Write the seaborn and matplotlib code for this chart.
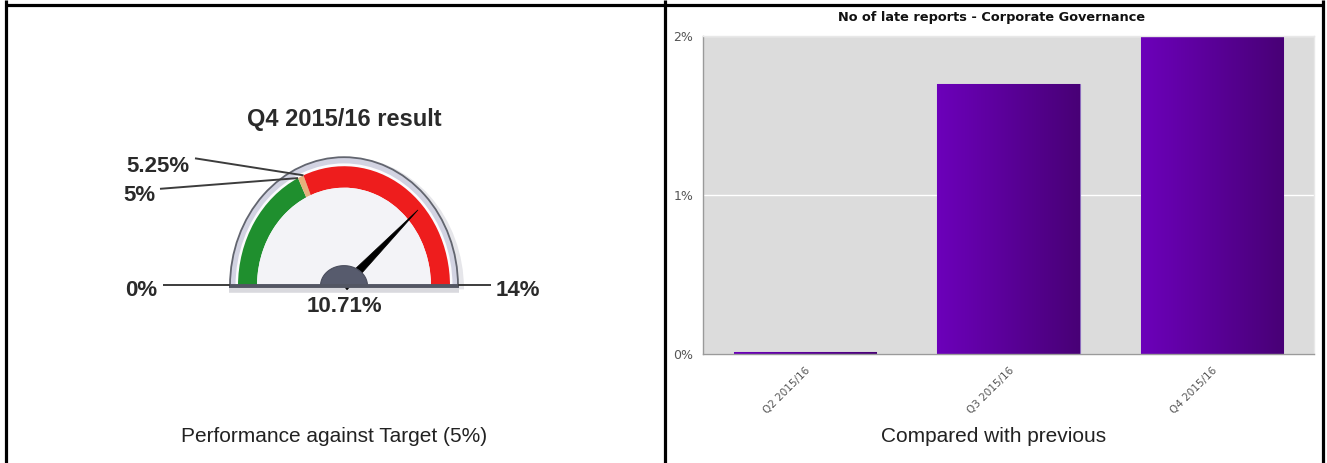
import numpy as np
import pandas as pd
import matplotlib
matplotlib.use("Agg")
import matplotlib.pyplot as plt
import seaborn as sns
from matplotlib.patches import Wedge, Polygon
from matplotlib.colors import LinearSegmentedColormap

# ---- bar chart data ----
quarters = ["Q2 2015/16", "Q3 2015/16", "Q4 2015/16"]
late_pct = [0.01, 1.70, 2.00]
y_ticks = [0, 1, 2]
y_tick_labels = ["0%", "1%", "2%"]
bar_title = "No of late reports - Corporate Governance"

# ---- gauge data ----
gauge_min = 0.0
gauge_max = 14.0
band_edges = [0.0, 5.0, 5.25, 14.0]
band_colors = ["#1f8f2e", "#e6b27c", "#ee1d1d"]
result_value = 10.71
gauge_title = "Q4 2015/16 result"
result_label = "10.71%"
scale_values = [0.0, 5.0, 5.25, 14.0]
scale_labels = ["0%", "5%", "5.25%", "14%"]

left_caption = "Performance against Target (5%)"
right_caption = "Compared with previous"

W, H, DPI = 1327, 463, 100
sns.set_theme(style="white")
plt.rcParams["font.family"] = ["DejaVu Sans"]

fig = plt.figure(figsize=(W / DPI, H / DPI), dpi=DPI)
fig.patch.set_facecolor("white")


def px_axes(x0, y0, x1, y1):
    """Axes placed by pixel box (top-left origin)."""
    return fig.add_axes([x0 / W, 1 - y1 / H, (x1 - x0) / W, (y1 - y0) / H])


# ================= bar chart =================
ax = px_axes(703, 36, 1314, 354)
df = pd.DataFrame({"quarter": quarters, "pct": late_pct})
sns.barplot(data=df, x="quarter", y="pct", ax=ax, width=0.7, color="#5a0096",
            saturation=1, edgecolor="#8d6bbd", linewidth=0.8, errorbar=None)

bar_cmap = LinearSegmentedColormap.from_list("bar_grad", ["#6c00ba", "#480076"])
grad = np.linspace(0, 1, 256).reshape(1, -1)
for p in list(ax.patches):
    x, y, w, h = p.get_x(), p.get_y(), p.get_width(), p.get_height()
    im = ax.imshow(grad, extent=[x, x + w, y, y + h], aspect="auto", cmap=bar_cmap,
                   interpolation="bicubic", zorder=p.get_zorder() + 0.1)
    im.set_clip_path(p)

ax.set_xlim(-0.5, 2.5)
ax.set_ylim(0, 2)
ax.set_facecolor("#dcdcdc")
ax.set_yticks(y_ticks)
ax.set_yticklabels(y_tick_labels)
ax.set_axisbelow(True)
ax.grid(axis="y", color="white", linewidth=1.0)
ax.grid(axis="x", visible=False)
ax.set_xlabel("")
ax.set_ylabel("")
for side in ("left", "bottom"):
    ax.spines[side].set_color("#9a9a9a")
    ax.spines[side].set_linewidth(1.0)
for side in ("top", "right"):
    ax.spines[side].set_color("#e8e8e8")
    ax.spines[side].set_linewidth(1.0)
ax.tick_params(axis="both", which="major", direction="out", length=4, width=0.8,
               color="#9a9a9a", labelcolor="#555555")
ax.tick_params(axis="y", pad=3, labelsize=9)
ax.tick_params(axis="x", pad=4, labelsize=7.5)
for lbl in ax.get_xticklabels():
    lbl.set_rotation(45)
    lbl.set_ha("right")
    lbl.set_va("top")
    lbl.set_rotation_mode("anchor")

fig.text(992 / W, 1 - 18 / H, bar_title, ha="center", va="center",
         fontsize=9.3, fontweight="bold", color="#111111")

# ================= gauge =================
cx, cy, sx, sy = 344.0, 286.0, 100.0, 113.0
gx0, gx1 = cx - 2.4 * sx, cx + 2.4 * sx
gy0, gy1 = cy - 1.7 * sy, cy + 0.35 * sy
gax = px_axes(gx0, gy0, gx1, gy1)
gax.set_xlim(-2.4, 2.4)
gax.set_ylim(-0.35, 1.7)
gax.axis("off")


def theta(v):
    return 180.0 * (1.0 - (v - gauge_min) / (gauge_max - gauge_min))


R_BEZEL, R_WHITE, R_OUT, R_IN = 1.14, 1.085, 1.06, 0.87

# soft shadow under the dial
gax.add_patch(Wedge((0.03, -0.03), R_BEZEL + 0.03, 0, 180, facecolor="#e6e6ea",
                    edgecolor="none", zorder=1))
gax.add_patch(Wedge((0, 0), R_BEZEL, 0, 180, facecolor="#d2d3e2",
                    edgecolor="#62656f", linewidth=1.3, zorder=2))
gax.add_patch(Wedge((0, 0), R_WHITE, 0, 180, facecolor="#fbfbfd",
                    edgecolor="none", zorder=3))
for lo, hi, col in zip(band_edges[:-1], band_edges[1:], band_colors):
    gax.add_patch(Wedge((0, 0), R_OUT, theta(hi), theta(lo), width=R_OUT - R_IN,
                        facecolor=col, edgecolor="none", zorder=4))
gax.add_patch(Wedge((0, 0), R_IN, 0, 180, facecolor="#f3f3f7",
                    edgecolor="none", zorder=4))

# needle
th = np.radians(theta(result_value))
tip = (1.0 * np.cos(th), 1.0 * np.sin(th))
hw = 0.045
needle = Polygon([(-hw * np.sin(th), hw * np.cos(th)), tip,
                  (hw * np.sin(th), -hw * np.cos(th))],
                 closed=True, facecolor="black", edgecolor="black", linewidth=0.5, zorder=6)
gax.add_patch(needle)

# hub
t = np.linspace(0, np.pi, 80)
hub = Polygon(np.column_stack([0.235 * np.cos(t), 0.18 * np.sin(t)]), closed=True,
              facecolor="#575b6d", edgecolor="#4a4d5c", linewidth=0.8, zorder=7)
gax.add_patch(hub)

# base plate
gax.plot([-R_BEZEL - 0.01, R_BEZEL + 0.01], [-0.035, -0.035], color="#d9d9de",
         linewidth=4, solid_capstyle="butt", zorder=1)
gax.plot([-R_BEZEL - 0.01, R_BEZEL + 0.01], [0.0, 0.0], color="#535663",
         linewidth=2.8, solid_capstyle="butt", zorder=8)

# scale labels with leader lines
label_font = dict(fontsize=16, fontweight="bold", color="#2a2a2a",
                  family=["Liberation Sans", "DejaVu Sans"])
leader = dict(color="#3c3c3c", linewidth=1.4, zorder=9, solid_capstyle="butt")

# 0% and 14% on the base line
gax.plot([-1.81, -R_BEZEL], [0.01, 0.01], **leader)
gax.text(-1.87, -0.04, scale_labels[0], ha="right", va="center", **label_font)
gax.plot([R_BEZEL, 1.47], [0.01, 0.01], **leader)
gax.text(1.52, -0.04, scale_labels[3], ha="left", va="center", **label_font)

# 5% and 5.25% pointing at the band boundary
for v, lab, start, pos in [(scale_values[1], scale_labels[1], (-1.84, 0.86), (-1.89, 0.80)),
                           (scale_values[2], scale_labels[2], (-1.49, 1.13), (-1.55, 1.06))]:
    a = np.radians(theta(v))
    gax.plot([start[0], R_OUT * np.cos(a)], [start[1], R_OUT * np.sin(a)], **leader)
    gax.text(pos[0], pos[1], lab, ha="right", va="center", **label_font)

gax.text(0.0, -0.18, result_label, ha="center", va="center", **label_font)
gax.text(0.0, 1.47, gauge_title, ha="center", va="center",
         fontsize=17, fontweight="bold", color="#2a2a2a",
         family=["Liberation Sans", "DejaVu Sans"])

# ================= captions =================
cap_font = dict(fontsize=15, color="#222222", family=["Liberation Sans", "DejaVu Sans"],
                ha="center", va="center")
fig.text(334 / W, 1 - 437 / H, left_caption, **cap_font)
fig.text(994 / W, 1 - 437 / H, right_caption, **cap_font)

# ================= table frame =================
ov = fig.add_axes([0, 0, 1, 1])
ov.set_xlim(0, W)
ov.set_ylim(H, 0)
ov.axis("off")
ov.patch.set_alpha(0)
frame = dict(color="black", linewidth=2.3, solid_capstyle="butt")
for xv in (5.5, 664.5, 1323.0):
    ov.plot([xv, xv], [0, H], **frame)
ov.plot([5.5, 1323.0], [4.5, 4.5], **frame)

fig.savefig("out.png", dpi=DPI, facecolor="white")
